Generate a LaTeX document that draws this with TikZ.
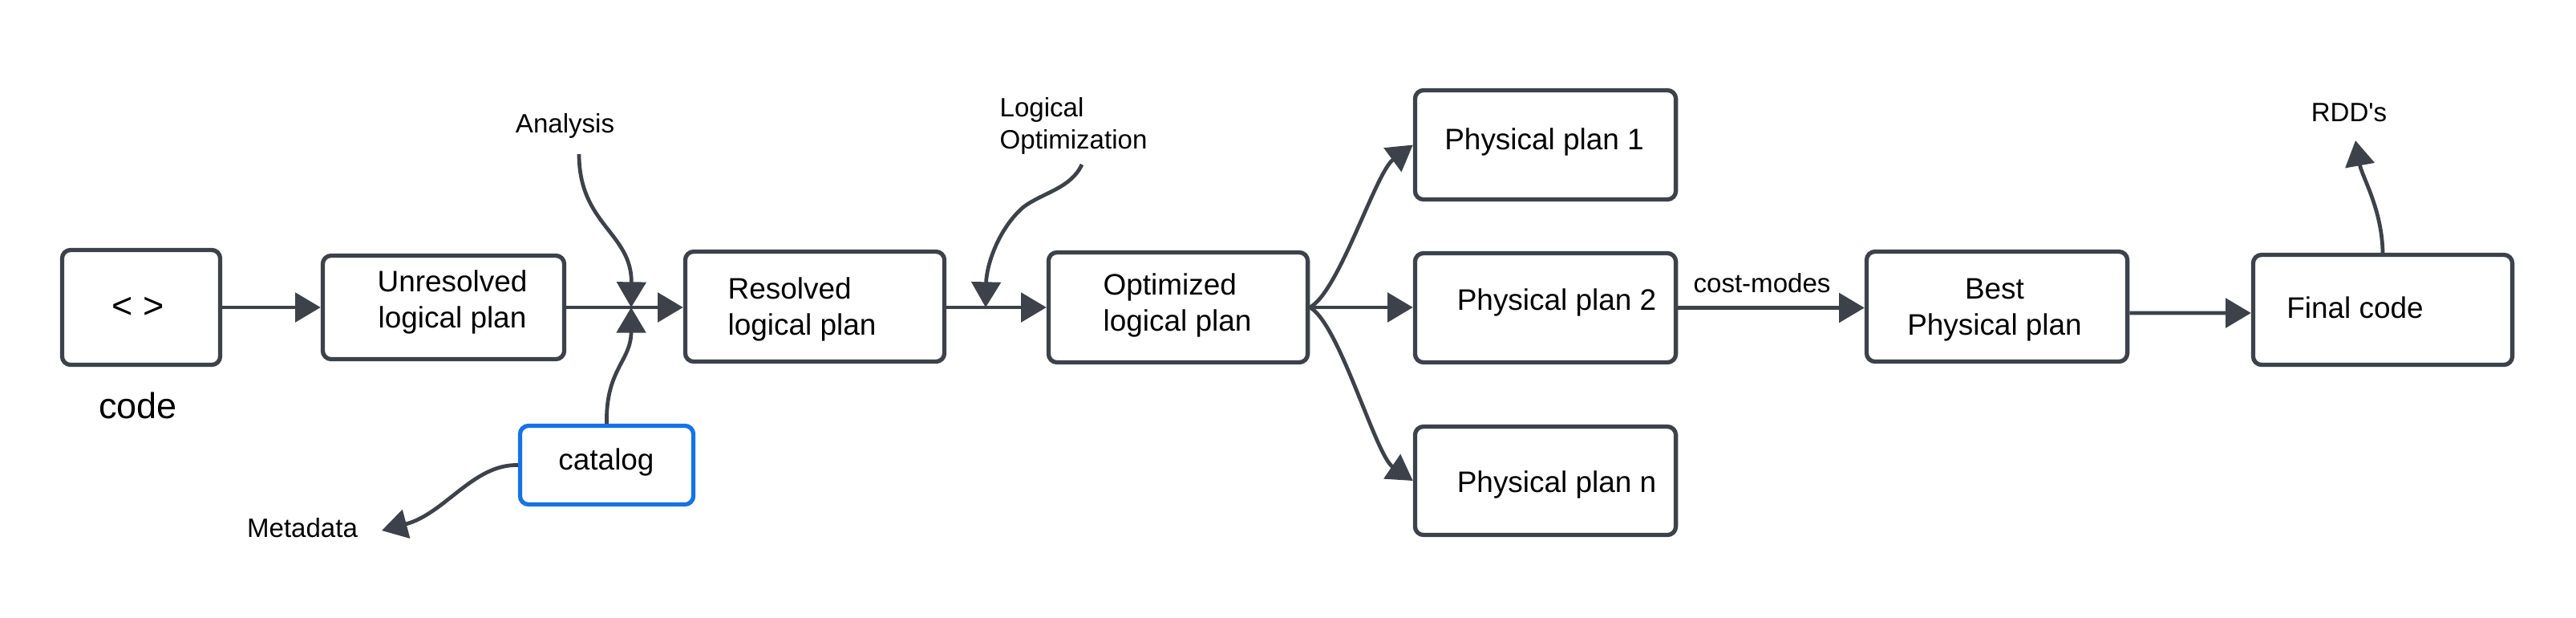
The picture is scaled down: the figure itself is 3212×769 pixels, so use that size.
\documentclass[tikz,border=0pt]{standalone}
\usepackage{fontspec}
\setmainfont{Liberation Sans}
\newfontfamily\straightfont{Liberation Sans}[Ligatures=ResetAll]
\usetikzlibrary{arrows.meta}
\definecolor{ink}{RGB}{61,66,74}
\definecolor{catblue}{RGB}{22,114,230}
\tikzset{
  box/.style={draw=ink, line width=1.5pt, rounded corners=3pt, inner sep=0pt, fill=white},
  catbox/.style={box, draw=catblue},
  txt/.style={font=\fontsize{10.5}{12.8}\selectfont, inner sep=0pt, text=black},
  lbl/.style={font=\fontsize{9.4}{11.4}\selectfont, inner sep=0pt, text=black},
  big/.style={font=\fontsize{12.8}{15}\selectfont, inner sep=0pt, text=black},
  arr/.style={draw=ink, line width=1.35pt, -{Triangle[length=9pt,width=10.3pt]}}
}
\begin{document}
\begin{tikzpicture}[x=0.01cm,y=-0.01cm]
\path[fill=white] (0,0) rectangle (3212,769);
\useasboundingbox (0,0) rectangle (3212,769);

% boxes
\node[box, minimum width=1.97cm, minimum height=1.43cm] (code) at (176,383) {};
\node[box, minimum width=3.01cm, minimum height=1.29cm] (unres) at (553,383) {};
\node[box, minimum width=3.23cm, minimum height=1.37cm] (res) at (1016,382) {};
\node[box, minimum width=3.23cm, minimum height=1.37cm] (opt) at (1469,383) {};
\node[box, minimum width=3.25cm, minimum height=1.36cm] (pp1) at (1927,180.5) {};
\node[box, minimum width=3.25cm, minimum height=1.36cm] (pp2) at (1927,383.5) {};
\node[box, minimum width=3.25cm, minimum height=1.35cm] (ppn) at (1927,599) {};
\node[box, minimum width=3.25cm, minimum height=1.37cm] (best) at (2490,382) {};
\node[box, minimum width=3.23cm, minimum height=1.37cm] (final) at (2971,386) {};
\node[catbox, minimum width=2.16cm, minimum height=0.98cm] (catalog) at (756.5,579.5) {};

% box texts
\node[big] (codeT) at (172.5,383) {< >};
\node[big] (codeL) at (172,505) {code};
\node[txt, align=center] (unresT) at (564,376) {Unresolved\\logical plan};
\node[txt, align=left, anchor=west] (resT) at (907,385.5) {Resolved\\logical plan};
\node[txt, align=left, anchor=west] (optT) at (1375,380) {Optimized\\logical plan};
\node[txt] (pp1T) at (1925.5,177) {Physical plan 1};
\node[txt] (pp2T) at (1941,377) {Physical plan 2};
\node[txt] (ppnT) at (1941,604) {Physical plan n};
\node[txt, align=center] (bestT) at (2487,386.5) {Best\\Physical plan};
\node[txt] (finalT) at (2936.5,383) {Final code};
\node[txt] (catT) at (756,576) {catalog};

% labels
\node[lbl] (ana) at (704.5,157) {Analysis};
\node[lbl, align=left, anchor=west] (lopt) at (1246,157) {Logical\\Optimization};
\node[lbl] (meta) at (377,658) {Metadata};
\node[lbl] (cost) at (2197,353) {cost-modes};
\node[lbl] (rdd) at (2929,140) {\straightfont RDD's};

% coordinates
\coordinate (anaS) at (722,192);
\coordinate (j1) at (787,383);
\coordinate (loS) at (1349,205);
\coordinate (j2) at (1229,383);
\coordinate (metaE) at (476,661);
\coordinate (rddE) at (2937,175);

% connectors
\draw[arr] (code) -- (unres);
\draw[arr] (unres.east) -- (unres.east -| res.west);
\draw[arr] (anaS) .. controls (722,280) and (788,290) .. (j1);
\draw[arr] (catalog.north) .. controls (755,460) and (787,450) .. (j1);
\draw[arr] (catalog.west) .. controls (590,578) and (555,640) .. (metaE);
\draw[arr] (res.east |- opt.west) -- (opt.west);
\draw[arr] (loS) .. controls (1335,235) and (1300,240) .. (1276,258) .. controls (1245,285) and (1230,330) .. (j2);
\draw[arr] (opt.east) .. controls (1670,363) and (1715,215) .. (pp1.west);
\draw[arr] (opt.east) -- (opt.east -| pp2.west);
\draw[arr] (opt.east) .. controls (1670,403) and (1715,567) .. (ppn.west);
\draw[arr] (pp2.east) -- (pp2.east -| best.west);
\draw[arr] ([yshift=-0.08cm]best.east) -- ([yshift=-0.04cm]final.west);
\draw[arr] (final.north) .. controls (2970,260) and (2945,220) .. (rddE);
\end{tikzpicture}
\end{document}
